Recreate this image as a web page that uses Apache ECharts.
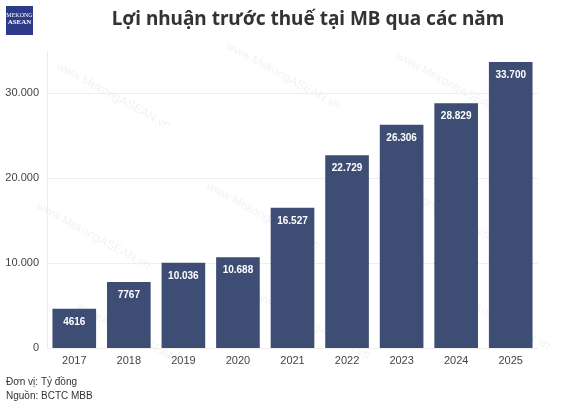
<!DOCTYPE html>
<html>
<head>
<meta charset="utf-8">
<script src="https://cdn.jsdelivr.net/npm/echarts@6/dist/echarts.min.js"></script>
<style>
  html, body { margin: 0; padding: 0; background: #fff; }
  #chart { width: 562px; height: 408px; }
</style>
</head>
<body>
<div id="chart"></div>
<script>
const years = ['2017', '2018', '2019', '2020', '2021', '2022', '2023', '2024', '2025'];
const profit = [4616, 7767, 10036, 10688, 16527, 22729, 26306, 28829, 33700];
const profitLabels = ['4616', '7767', '10.036', '10.688', '16.527', '22.729', '26.306', '28.829', '33.700'];

const chart = echarts.init(document.getElementById('chart'));

const marks = [];
const spots = [[60, 60], [230, 40], [400, 50], [40, 200], [210, 180], [380, 170], [80, 300], [260, 290], [440, 280]];
spots.forEach(p => {
  marks.push({
    type: 'text', x: p[0], y: p[1], rotation: -0.5, silent: true,
    style: { text: 'www.MekongASEAN.vn', fill: 'rgba(0,0,0,0.06)', font: '12px "Liberation Sans"' },
  });
});

chart.setOption({
  animation: false,
  textStyle: { fontFamily: 'Liberation Sans' },
  title: {
    text: 'Lợi nhuận trước thuế tại MB qua các năm',
    left: 303,
    textAlign: 'center',
    top: 5,
    textStyle: { fontFamily: 'Noto Sans', fontSize: 19, fontWeight: 'bold', color: '#333' },
  },
  graphic: [
    ...marks,
    { type: 'rect', shape: { x: 6, y: 6, width: 27, height: 29 }, style: { fill: '#2c3a87' } },
    { type: 'text', x: 19.5, y: 12, style: { text: 'MEKONG', fill: '#fff', font: '6px "Liberation Serif"', textAlign: 'center' } },
    { type: 'text', x: 19.5, y: 19, style: { text: 'ASEAN', fill: '#fff', font: 'bold 7px "Liberation Serif"', textAlign: 'center' } },
    { type: 'text', left: 6, top: 377, style: { text: 'Đơn vị: Tỷ đồng', fill: '#333', font: '10px "Liberation Sans"' } },
    { type: 'text', left: 6, top: 391, style: { text: 'Nguồn: BCTC MBB', fill: '#333', font: '10px "Liberation Sans"' } },
  ],
  grid: { left: 47, right: 24, top: 51, bottom: 60 },
  xAxis: {
    type: 'category',
    data: years,
    axisLine: { show: false },
    axisTick: { show: false },
    axisLabel: { color: '#444', fontSize: 11, margin: 7 },
  },
  yAxis: {
    type: 'value',
    min: 0,
    max: 35000,
    interval: 10000,
    axisLine: { show: true, lineStyle: { color: '#eee' } },
    axisLabel: {
      color: '#444', fontSize: 11, showMaxLabel: false,
      formatter: v => v === 0 ? '0' : v.toLocaleString('de-DE'),
    },
    splitLine: { showMaxLine: false, lineStyle: { color: '#eee' } },
  },
  series: [{
    type: 'bar',
    data: profit,
    barCategoryGap: '20%',
    itemStyle: { color: '#3d4d73' },
    label: {
      show: true,
      position: 'insideTop',
      distance: 8,
      color: '#fff',
      fontSize: 10,
      fontWeight: 'bold',
      formatter: p => profitLabels[p.dataIndex],
    },
  }],
});
</script>
</body>
</html>
